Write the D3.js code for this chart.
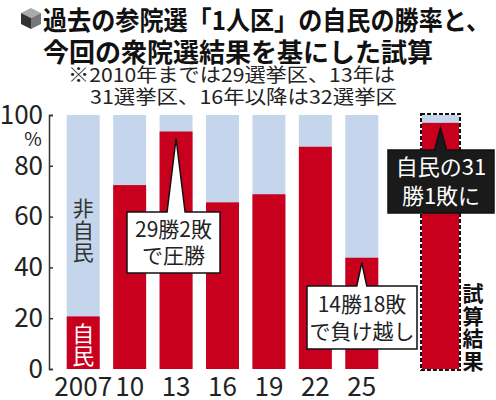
<!DOCTYPE html>
<html>
<head>
<meta charset="utf-8">
<script src="https://cdn.jsdelivr.net/npm/d3@7"></script>
<style>
  body { margin: 0; background: #fff; }
  svg { display: block; font-family: "Noto Sans CJK JP", "Noto Sans", sans-serif; }
</style>
</head>
<body>
<div class="chartDiv"></div>
<script>
// data (percent of single-seat districts won by LDP)
var years = ["2007", "10", "13", "16", "19", "22", "25"];
var ldpShare = [20.7, 72.4, 93.5, 65.6, 68.8, 87.5, 43.8];
var simLabel = "試算";
var simShare = 96.9;
var yTicks = [0, 20, 40, 60, 80, 100];

var titleLines = ["過去の参院選「1人区」の自民の勝率と、", "今回の衆院選結果を基にした試算"];
var noteLines = ["※2010年までは29選挙区、13年は", "31選挙区、16年以降は32選挙区"];

var red = "#c8001e", blue = "#c5d6ec", ink = "#222";

var svg = d3.select(".chartDiv").append("svg")
    .attr("width", 496)
    .attr("height", 400);

// title icon (little cube)
var icon = svg.append("g").attr("transform", "translate(31,18)");
icon.append("path").attr("d", "M0,-10 L10,-5 L0,0 L-10,-5 Z").attr("fill", "#aaa");
icon.append("path").attr("d", "M-10,-5 L0,0 L0,11 L-10,6 Z").attr("fill", "#333");
icon.append("path").attr("d", "M10,-5 L0,0 L0,11 L10,6 Z").attr("fill", "#777");

// title
var titleX = [[43, 447], [43, 390]];
svg.selectAll(".title")
    .data(titleLines)
    .enter().append("text")
      .attr("class", "title")
      .attr("x", function(d, i) { return titleX[i][0]; })
      .attr("y", function(d, i) { return 29.5 + i * 32; })
      .attr("textLength", function(d, i) { return titleX[i][1]; })
      .attr("lengthAdjust", "spacingAndGlyphs")
      .style("font-size", "26px")
      .style("font-weight", "bold")
      .attr("fill", "#111")
      .text(function(d) { return d; });

// note
var noteX = [[68, 327], [90, 307]];
svg.selectAll(".note")
    .data(noteLines)
    .enter().append("text")
      .attr("class", "note")
      .attr("x", function(d, i) { return noteX[i][0]; })
      .attr("y", function(d, i) { return 82 + i * 21.5; })
      .attr("textLength", function(d, i) { return noteX[i][1]; })
      .attr("lengthAdjust", "spacingAndGlyphs")
      .style("font-size", "19px")
      .attr("fill", "#222")
      .text(function(d) { return d; });

// scales
var y = d3.scaleLinear().domain([0, 100]).range([369, 115]);
var x = d3.scaleBand().domain(years).range([60, 385]).paddingInner(0.29).paddingOuter(0.145);
var xSim = d3.scaleBand().domain([simLabel]).range([416, 465]).padding(0.14);

// y axis
var yAxis = svg.append("g")
    .attr("transform", "translate(49,0)")
    .call(d3.axisLeft(y).tickValues(yTicks).tickSize(-4).tickPadding(6));
yAxis.select(".domain").attr("stroke", "#333").attr("stroke-width", 1.5);
yAxis.selectAll(".tick line").attr("stroke", "#333").attr("stroke-width", 1.5);
yAxis.selectAll(".tick text")
    .style("font-family", "'Noto Sans CJK JP', sans-serif")
    .style("font-size", "26px")
    .attr("fill", ink);
svg.append("text")
    .attr("x", 33).attr("y", 146)
    .attr("text-anchor", "middle")
    .style("font-size", "19px")
    .attr("fill", ink)
    .text("%");

// bars: light blue background (100%) then red share on top
var bars = svg.selectAll(".bar")
    .data(years)
    .enter().append("g")
      .attr("class", "bar");
bars.append("rect")
    .attr("x", function(d) { return x(d); })
    .attr("y", y(100))
    .attr("width", x.bandwidth())
    .attr("height", y(0) - y(100))
    .attr("fill", blue);
bars.append("rect")
    .attr("x", function(d) { return x(d); })
    .attr("y", function(d, i) { return y(ldpShare[i]); })
    .attr("width", x.bandwidth())
    .attr("height", function(d, i) { return y(0) - y(ldpShare[i]); })
    .attr("fill", red);

// simulation bar
var sx = xSim(simLabel), sw = xSim.bandwidth();
svg.append("rect")
    .attr("x", sx).attr("y", y(100))
    .attr("width", sw).attr("height", y(0) - y(100))
    .attr("fill", blue);
svg.append("rect")
    .attr("x", sx).attr("y", y(simShare))
    .attr("width", sw).attr("height", y(0) - y(simShare))
    .attr("fill", red);
svg.append("rect")
    .attr("x", sx - 1).attr("y", y(100) - 1)
    .attr("width", sw + 2).attr("height", y(0) - y(100) + 2)
    .attr("fill", "none")
    .attr("stroke", "#111")
    .attr("stroke-width", 2)
    .attr("stroke-dasharray", "4,2");

// x labels
svg.selectAll(".xlab")
    .data(years)
    .enter().append("text")
      .attr("class", "xlab")
      .attr("x", function(d) { return x(d) + x.bandwidth() / 2; })
      .attr("y", 396)
      .attr("text-anchor", "middle")
      .style("font-size", "26px")
      .attr("fill", ink)
      .text(function(d) { return d; });

// vertical labels
var vtext = function(chars, cx, cy0, step, size, color, weight) {
  svg.append("g").selectAll("text")
    .data(chars.split(""))
    .enter().append("text")
      .attr("x", cx)
      .attr("y", function(d, i) { return cy0 + i * step; })
      .attr("text-anchor", "middle")
      .attr("dy", "0.38em")
      .style("font-size", size + "px")
      .style("font-weight", weight)
      .attr("fill", color)
      .text(function(d) { return d; });
};
var cx0 = x(years[0]) + x.bandwidth() / 2;
vtext("非自民", cx0, 208, 22, 21, "#333", "normal");
vtext("自民", cx0, 334, 22, 22, "#fff", "normal");
vtext("試算結果", 473, 293, 22.7, 21, "#111", "bold");

// callouts (box with a pointer up to the bar)
var callout = function(box, tipX, tipY, baseHalf, lines, fill, color, size, lineGap) {
  var l = box[0], t = box[1], r = box[2], b = box[3];
  svg.append("path")
    .attr("d", "M" + l + "," + t + "H" + (tipX - baseHalf) + "L" + tipX + "," + tipY +
      "L" + (tipX + baseHalf) + "," + t + "H" + r + "V" + b + "H" + l + "Z")
    .attr("fill", fill)
    .attr("stroke", "#111")
    .attr("stroke-width", 1.5)
    .attr("stroke-linejoin", "miter");
  var cx = (l + r) / 2, cy = (t + b) / 2;
  svg.append("g").selectAll("text")
    .data(lines)
    .enter().append("text")
      .attr("x", cx)
      .attr("y", function(d, i) { return cy + (i - (lines.length - 1) / 2) * lineGap; })
      .attr("dy", "0.38em")
      .attr("text-anchor", "middle")
      .style("font-size", size + "px")
      .attr("fill", color)
      .text(function(d) { return d; });
};

var bx13 = x("13") + x.bandwidth() / 2;
callout([127, 212, 220, 273], bx13, y(ldpShare[2]) + 7, 9, ["29勝2敗", "で圧勝"], "#fff", ink, 21, 26);
var bx25 = x("25") + x.bandwidth() / 2;
callout([307, 286, 417, 349], bx25, y(ldpShare[6]) + 5, 5, ["14勝18敗", "で負け越し"], "#fff", ink, 21, 27);
callout([388, 150, 494, 213], sx + sw / 2, y(simShare) + 5, 6, ["自民の31", "勝1敗に"], "#1a1a1a", "#fff", 22, 29);
</script>
</body>
</html>
